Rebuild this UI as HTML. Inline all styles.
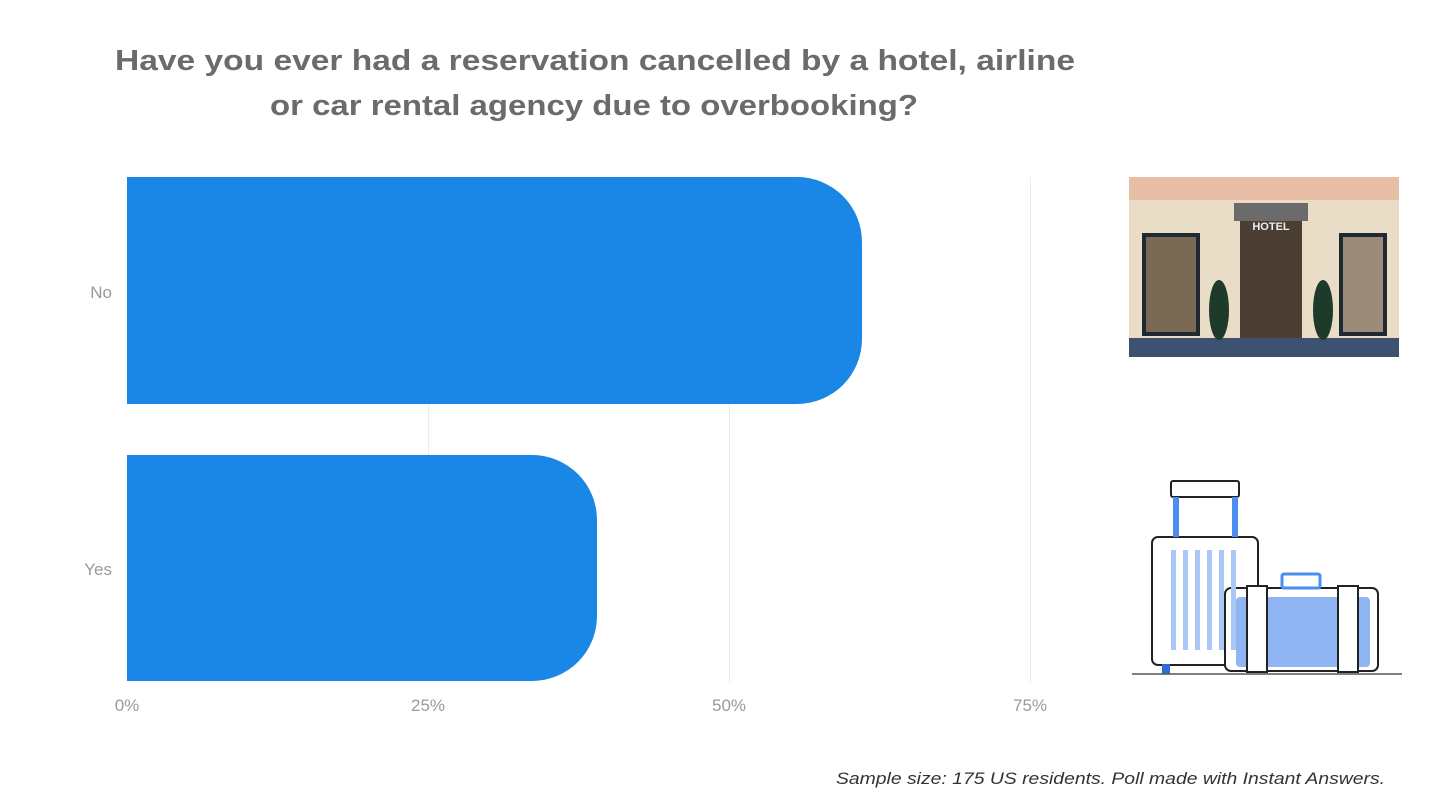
<!DOCTYPE html>
<html><head><meta charset="utf-8"><style>
html,body{margin:0;padding:0;background:#fff;}
svg{display:block;font-family:"Liberation Sans",sans-serif;}
</style></head><body>
<svg width="1440" height="810" viewBox="0 0 1440 810" xmlns="http://www.w3.org/2000/svg">
<rect width="1440" height="810" fill="#fff"/>
<text x="115" y="70" font-size="29" font-weight="bold" fill="#6b6b6b" textLength="960" lengthAdjust="spacingAndGlyphs">Have you ever had a reservation cancelled by a hotel, airline</text>
<text x="270" y="115" font-size="29" font-weight="bold" fill="#6b6b6b" textLength="648" lengthAdjust="spacingAndGlyphs">or car rental agency due to overbooking?</text>
<g stroke="#ececec" stroke-width="1">
<line x1="428.5" y1="177" x2="428.5" y2="682"/>
<line x1="729.5" y1="177" x2="729.5" y2="682"/>
<line x1="1030.5" y1="177" x2="1030.5" y2="682"/>
</g>
<path d="M127 177 H797 A65 65 0 0 1 862 242 V339 A65 65 0 0 1 797 404 H127 Z" fill="#1a87e6"/>
<path d="M127 455 H532 A65 65 0 0 1 597 520 V616 A65 65 0 0 1 532 681 H127 Z" fill="#1a87e6"/>
<g font-size="17" fill="#999">
<text x="112" y="298" text-anchor="end">No</text>
<text x="112" y="575" text-anchor="end">Yes</text>
<text x="127" y="711" text-anchor="middle">0%</text>
<text x="428" y="711" text-anchor="middle">25%</text>
<text x="729" y="711" text-anchor="middle">50%</text>
<text x="1030" y="711" text-anchor="middle">75%</text>
</g>
<text x="836" y="784" font-size="17" font-style="italic" fill="#333" textLength="549" lengthAdjust="spacingAndGlyphs">Sample size: 175 US residents. Poll made with Instant Answers.</text>
<!-- hotel -->
<rect x="1129" y="177" width="270" height="180" fill="#e9ddc8"/>
<rect x="1129" y="177" width="270" height="23" fill="#e8bfa5"/>
<rect x="1129" y="338" width="270" height="19" fill="#3d5170"/>
<rect x="1142" y="233" width="58" height="103" fill="#1f2a30"/>
<rect x="1146" y="237" width="50" height="95" fill="#7a6a55"/>
<rect x="1339" y="233" width="48" height="103" fill="#1f2a30"/>
<rect x="1343" y="237" width="40" height="95" fill="#9a8c78"/>
<rect x="1240" y="215" width="62" height="123" fill="#4a3f32"/>
<rect x="1234" y="203" width="74" height="18" fill="#6b6b6b"/>
<text x="1271" y="230" text-anchor="middle" font-size="11" font-weight="bold" fill="#eee">HOTEL</text>
<ellipse cx="1219" cy="310" rx="10" ry="30" fill="#1d3a2a"/>
<ellipse cx="1323" cy="310" rx="10" ry="30" fill="#1d3a2a"/>
<!-- luggage -->
<g stroke="#222" stroke-width="2" fill="#fff">
<rect x="1171" y="481" width="68" height="16" rx="2"/>
<rect x="1152" y="537" width="106" height="128" rx="6"/>
<rect x="1225" y="588" width="153" height="83" rx="6"/>
</g>
<rect x="1173" y="497" width="6" height="40" fill="#4a8ef0"/>
<rect x="1232" y="497" width="6" height="40" fill="#4a8ef0"/>
<g fill="#a9c8f5">
<rect x="1171" y="550" width="5" height="100"/><rect x="1183" y="550" width="5" height="100"/>
<rect x="1195" y="550" width="5" height="100"/><rect x="1207" y="550" width="5" height="100"/>
<rect x="1219" y="550" width="5" height="100"/><rect x="1231" y="550" width="5" height="100"/>
</g>
<rect x="1236" y="597" width="134" height="70" rx="4" fill="#8fb6f2"/>
<rect x="1282" y="574" width="38" height="14" rx="2" fill="none" stroke="#4a8ef0" stroke-width="3"/>
<rect x="1247" y="586" width="20" height="86" fill="#fff" stroke="#222" stroke-width="2"/>
<rect x="1338" y="586" width="20" height="86" fill="#fff" stroke="#222" stroke-width="2"/>
<rect x="1162" y="664" width="8" height="10" fill="#2a6fd6"/>
<line x1="1132" y1="674" x2="1402" y2="674" stroke="#555" stroke-width="1.5"/>
</svg>
</body></html>
